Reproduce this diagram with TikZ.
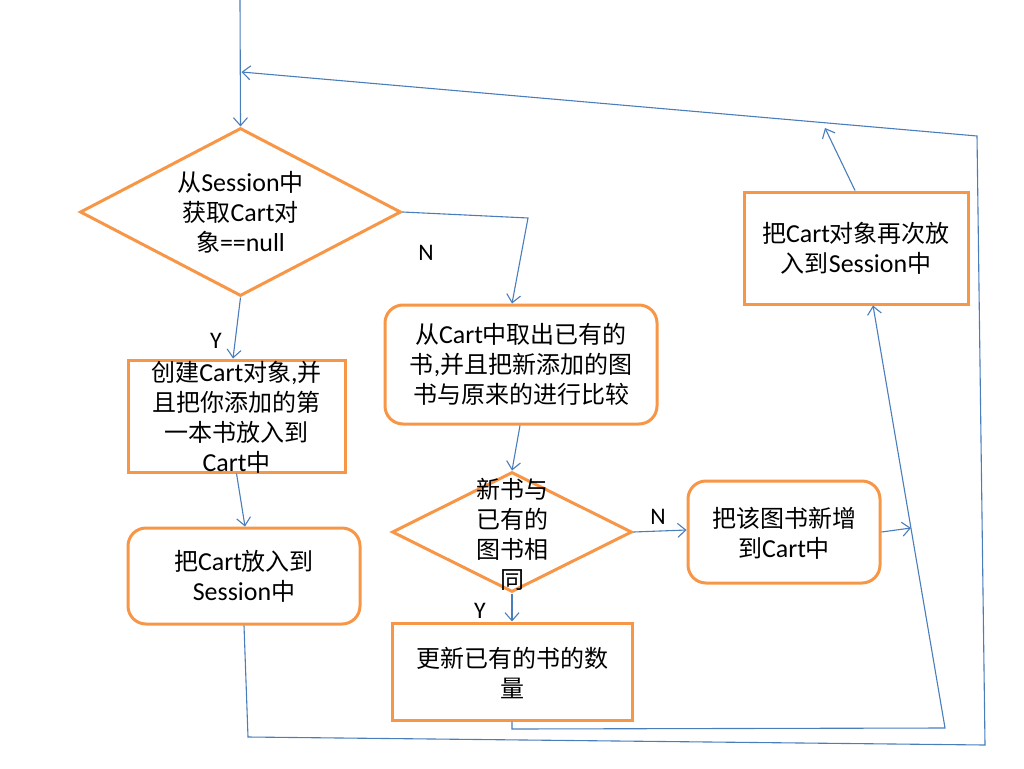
\documentclass[tikz,border=0pt]{standalone}
\usepackage{fontspec}
\newfontfamily\cjk{Noto Sans CJK SC}
\newfontfamily\lat[Scale=1.08]{Carlito}
\usetikzlibrary{shapes.geometric,arrows.meta}
\definecolor{boxor}{HTML}{F79646}
\definecolor{conblue}{HTML}{4A7EBB}
\newcommand\la[1]{{\lat #1}}
\tikzset{
  box/.style={draw=boxor,line width=3pt,rectangle,inner sep=0pt},
  rbox/.style={box,rounded corners=18pt},
  dia/.style={draw=boxor,line width=3pt,diamond,inner sep=0pt},
  txt/.style={font=\cjk\fontsize{24}{30}\selectfont,align=center,inner sep=0pt},
  lab/.style={font=\lat\fontsize{22}{26}\selectfont,inner sep=0pt},
  con/.style={draw=conblue,line width=1.1pt},
  arr/.style={con,-{Straight Barb[length=8pt,width=14pt]}},
}
\begin{document}
\begin{tikzpicture}[x=1pt,y=-1pt]
\useasboundingbox (0,0) rectangle (1024,768);
% shapes
\node[dia,minimum width=321pt,minimum height=168pt] (d1) at (240.5,212) {};
\node[txt] (d1t) at (240.5,212) {从\la{Session}中\\获取\la{Cart}对\\象\la{==null}};
\node[box,minimum width=217pt,minimum height=112pt] (b1) at (236.5,416) {};
\node[txt] (b1t) at (236.5,417) {创建\la{Cart}对象\la{,}并\\且把你添加的第\\一本书放入到\\\la{Cart}中};
\node[rbox,minimum width=232pt,minimum height=96pt] (b3) at (244,576) {};
\node[txt] (b3t) at (244,576) {把\la{Cart}放入到\\\la{Session}中};
\node[rbox,minimum width=272pt,minimum height=119pt] (b2) at (521,364.5) {};
\node[txt] (b2t) at (521,364) {从\la{Cart}中取出已有的\\书\la{,}并且把新添加的图\\书与原来的进行比较};
\node[dia,minimum width=240pt,minimum height=120pt] (d2) at (512,532) {};
\node[txt] (d2t) at (512,534) {新书与\\已有的\\图书相\\同};
\node[box,minimum width=240pt,minimum height=97pt] (b4) at (512,671.5) {};
\node[txt] (b4t) at (512,673) {更新已有的书的数\\量};
\node[rbox,minimum width=192pt,minimum height=102pt] (b6) at (784,532) {};
\node[txt] (b6t) at (784,533) {把该图书新增\\到\la{Cart}中};
\node[box,minimum width=224pt,minimum height=112pt] (b5) at (856,248) {};
\node[txt] (b5t) at (856,248) {把\la{Cart}对象再次放\\入到\la{Session}中};
% labels
\node[lab] (n1) at (426,253) {N};
\node[lab] (y1) at (216,341) {Y};
\node[lab] (n2) at (658,517) {N};
\node[lab] (y2) at (480,611) {Y};
% coordinates
\coordinate (start) at (240,0);
\coordinate (k1) at (528,218);
\coordinate (c1) at (248,737);
\coordinate (c2) at (985,745);
\coordinate (c3) at (977,136);
\coordinate (c4) at (241.5,72);
\coordinate (e1) at (512,729);
\coordinate (e2) at (945,728);
\coordinate (m) at (911,528);
\coordinate (up) at (825,128);
% connectors
\draw[arr] (start) -- (d1.north);
\draw[arr] (d1.east) -- (k1) -- ([xshift=-9pt]b2.north);
\draw[arr] (d1.south) -- ([xshift=-3.5pt]b1.north);
\draw[arr] (b1.south) -- ([xshift=1pt]b3.north);
\draw[arr] (b3.south) -- (c1) -- (c2) -- (c3) -- (c4);
\draw[arr] ([xshift=-1pt]b2.south) -- (d2.north);
\draw[arr] (d2.south) -- (b4.north);
\draw[arr] (d2.east) -- ([yshift=2pt]b6.west);
\draw[arr] (b4.south) -- (e1) -- (e2) -- ([xshift=17pt]b5.south);
\draw[arr] (b6.east) -- (m);
\draw[arr] ([xshift=-1pt]b5.north) -- (up);
\end{tikzpicture}
\end{document}
